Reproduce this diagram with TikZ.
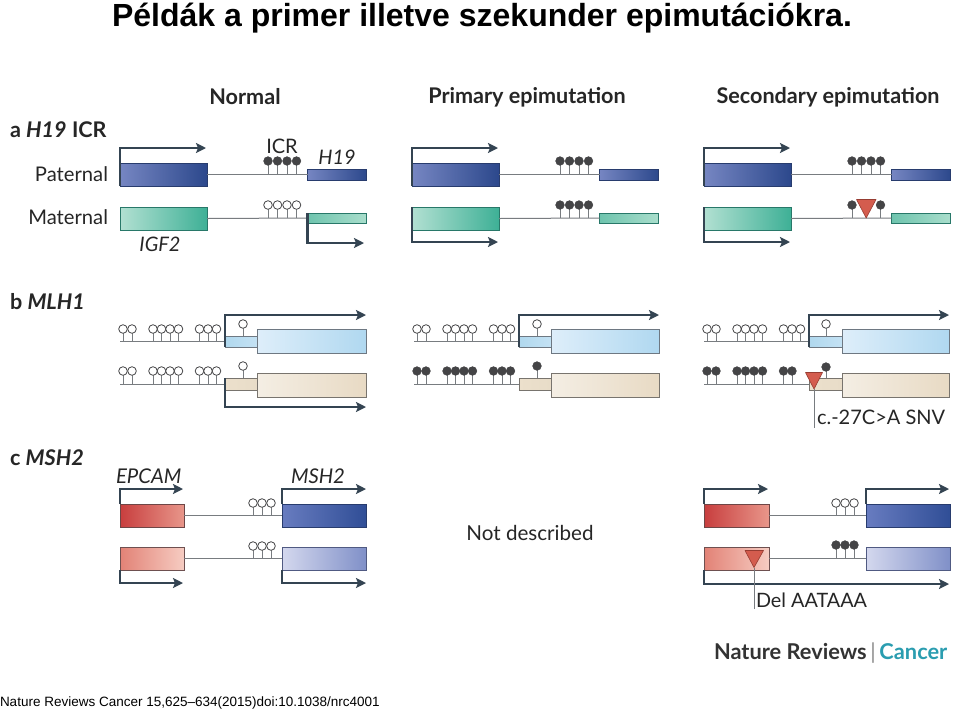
\documentclass[tikz,border=0pt]{standalone}
\usepackage{fontspec}
\setmainfont{Lato}
\newfontfamily\arialf{Liberation Sans}
\usetikzlibrary{arrows.meta}
\definecolor{arrowc}{RGB}{52,68,82}
\definecolor{lolc}{RGB}{68,68,70}
\definecolor{dnac}{RGB}{120,124,128}
\definecolor{teal}{RGB}{42,157,176}
\definecolor{redtri}{RGB}{212,92,78}
\definecolor{redtrid}{RGB}{150,60,50}
\newcommand\lolF[3]{\draw[stemline] (#1,#2) -- (#1,#3); \filldraw[lolfill] (#1,#3) circle[radius=4.3pt];}
\newcommand\lolO[3]{\draw[stemline] (#1,#2) -- (#1,#3); \filldraw[lolopen] (#1,#3) circle[radius=4.3pt];}
\newcommand\fsz[1]{\fontsize{#1}{#1}\selectfont}
\begin{document}
\begin{tikzpicture}[x=1pt,y=-1pt,
  gbox/.style={rectangle,draw,line width=0.6pt,inner sep=0pt,outer sep=0pt,anchor=north west},
  bdark/.style={gbox,left color={rgb,255:red,118;green,134;blue,194},right color={rgb,255:red,44;green,72;blue,140},draw={rgb,255:red,40;green,60;blue,110}},
  bteal/.style={gbox,left color={rgb,255:red,178;green,224;blue,210},right color={rgb,255:red,62;green,176;blue,150},draw={rgb,255:red,40;green,120;blue,105}},
  bteals/.style={gbox,left color={rgb,255:red,110;green,196;blue,174},right color={rgb,255:red,170;green,222;blue,204},draw={rgb,255:red,40;green,120;blue,105}},
  blbs/.style={gbox,left color={rgb,255:red,176;green,216;blue,238},right color={rgb,255:red,196;green,226;blue,244},draw={rgb,255:red,110;green,120;blue,130}},
  blb/.style={gbox,left color={rgb,255:red,222;green,238;blue,250},right color={rgb,255:red,176;green,216;blue,240},draw={rgb,255:red,110;green,120;blue,130}},
  bbgs/.style={gbox,left color={rgb,255:red,236;green,224;blue,204},right color={rgb,255:red,232;green,220;blue,200},draw={rgb,255:red,120;green,116;blue,110}},
  bbg/.style={gbox,left color={rgb,255:red,244;green,238;blue,228},right color={rgb,255:red,232;green,218;blue,196},draw={rgb,255:red,120;green,116;blue,110}},
  bred/.style={gbox,left color={rgb,255:red,200;green,62;blue,62},right color={rgb,255:red,232;green,150;blue,138},draw={rgb,255:red,110;green,70;blue,70}},
  bredl/.style={gbox,left color={rgb,255:red,226;green,130;blue,118},right color={rgb,255:red,246;green,204;blue,194},draw={rgb,255:red,110;green,80;blue,80}},
  bmsh/.style={gbox,left color={rgb,255:red,104;green,124;blue,192},right color={rgb,255:red,48;green,78;blue,150},draw={rgb,255:red,40;green,60;blue,110}},
  bmshl/.style={gbox,left color={rgb,255:red,212;green,216;blue,238},right color={rgb,255:red,128;green,144;blue,200},draw={rgb,255:red,80;green,90;blue,130}},
  dna/.style={draw=dnac,line width=1pt},
  stemline/.style={draw=dnac,line width=0.9pt},
  lolfill/.style={fill=lolc,draw=lolc,line width=0.6pt},
  lolopen/.style={fill=white,draw=lolc,line width=0.8pt},
  tss/.style={draw=arrowc,line width=2.8pt,-{Stealth[length=10pt,width=10pt,inset=2pt]}},
  tri/.style={fill=redtri,draw=redtrid,line width=0.6pt,line join=round},
  lab/.style={inner sep=0pt,outer sep=0pt,text=black!85},
  callout/.style={draw=dnac,line width=1pt}
]
\useasboundingbox (0,0) rectangle (960,713);
\fill[white] (0,0) rectangle (960,713);

% ---------- title and footer
\node[lab,anchor=base,text=black,font=\arialf\bfseries\fsz{32}] (title) at (482,26) {Példák a primer illetve szekunder epimutációkra.};
\node[lab,anchor=west,text=black,font=\arialf\fsz{13.5}] (foot) at (0,703) {Nature Reviews Cancer 15,625–634(2015)doi:10.1038/nrc4001};

% ---------- headers
\node[lab,font=\bfseries\fsz{21.6}] (hN) at (245,97) {Normal};
\node[lab,font=\bfseries\fsz{21.6}] (hP) at (527,97) {Primary epimutation};
\node[lab,font=\bfseries\fsz{21.6}] (hS) at (828,97) {Secondary epimutation};

% ---------- panel a
\node[lab,anchor=west,font=\bfseries\fsz{21.6}] (la) at (10,130) {a \textit{H19} ICR};
\node[lab,anchor=east,font=\fsz{20.2}] (lpat) at (108,174) {Paternal};
\node[lab,anchor=east,font=\fsz{20.2}] (lmat) at (108,217) {Maternal};
\node[lab,font=\fsz{20}] (licr) at (282,146) {ICR};
\node[lab,font=\itshape\fsz{20}] (lh19) at (337,157) {H19};
\node[lab,font=\itshape\fsz{20}] (ligf) at (160,244) {IGF2};

% normal
\node[bdark,minimum width=87pt,minimum height=23pt] (aNp) at (120,163) {};
\node[bdark,minimum width=59pt,minimum height=11pt] (aNph) at (307.5,169) {};
\draw[dna] (aNp.east) -- (aNph.west);
\foreach \x in {268,277.5,287,296.5} {\lolF{\x}{174.5}{161}}
\draw[tss] (aNp.south west) -- (120,148) -- (206,148);
\node[bteal,minimum width=87pt,minimum height=23pt] (aNm) at (120,207) {};
\node[bteals,minimum width=59pt,minimum height=10pt] (aNmh) at (307.5,213) {};
\draw[dna] (aNm.east) -- (aNmh.west);
\foreach \x in {268,277.5,287,296.5} {\lolO{\x}{218}{205}}
\draw[tss] (aNmh.north west) -- (307.5,243) -- (364,243);

% primary
\node[bdark,minimum width=87pt,minimum height=23pt] (aPp) at (412,163) {};
\node[bdark,minimum width=59pt,minimum height=11pt] (aPph) at (599.5,169) {};
\draw[dna] (aPp.east) -- (aPph.west);
\foreach \x in {560,569.5,579,588.5} {\lolF{\x}{174.5}{161}}
\draw[tss] (aPp.south west) -- (412,148) -- (498,148);
\node[bteal,minimum width=87pt,minimum height=23pt] (aPm) at (412,207) {};
\node[bteals,minimum width=59pt,minimum height=10pt] (aPmh) at (599.5,213) {};
\draw[dna] (aPm.east) -- (aPmh.west);
\foreach \x in {560,569.5,579,588.5} {\lolF{\x}{218}{205}}
\draw[tss] (aPm.north west) -- (412,242) -- (498,242);

% secondary
\node[bdark,minimum width=87pt,minimum height=23pt] (aSp) at (704,163) {};
\node[bdark,minimum width=59pt,minimum height=11pt] (aSph) at (891.5,169) {};
\draw[dna] (aSp.east) -- (aSph.west);
\foreach \x in {852,861.5,871,880.5} {\lolF{\x}{174.5}{161}}
\draw[tss] (aSp.south west) -- (704,148) -- (790,148);
\node[bteal,minimum width=87pt,minimum height=23pt] (aSm) at (704,207) {};
\node[bteals,minimum width=59pt,minimum height=10pt] (aSmh) at (891.5,213) {};
\draw[dna] (aSm.east) -- (aSmh.west);
\foreach \x in {852,880.5} {\lolF{\x}{218}{205}}
\draw[tri] (856.5,199.5) -- (876,199.5) -- (866.2,218) -- cycle;
\draw[tss] (aSm.north west) -- (704,242) -- (790,242);

% ---------- panel b
\node[lab,anchor=west,font=\bfseries\fsz{21.6}] (lb) at (10,302) {b \textit{MLH1}};

% normal (arrow x = 225)
\coordinate (bNs1) at (120,341.5);
\node[blbs,minimum width=32pt,minimum height=11pt] (bNe1) at (225,336) {};
\node[blb,minimum width=109pt,minimum height=24pt] (bNx1) at (257,329) {};
\draw[dna] (bNs1) -- (bNe1.west);
\foreach \d in {-102,-93,-72,-63.5,-55,-46.5,-25.5,-17,-8.5} {\lolO{225+\d}{341.5}{329}}
\lolO{243}{336}{324}
\draw[tss] (bNe1.south west) -- (225,315) -- (366,315);
\coordinate (bNs2) at (120,384);
\node[bbgs,minimum width=32pt,minimum height=12pt] (bNe2) at (225,378) {};
\node[bbg,minimum width=109pt,minimum height=24pt] (bNx2) at (257,373) {};
\draw[dna] (bNs2) -- (bNe2.west);
\foreach \d in {-102,-93,-72,-63.5,-55,-46.5,-25.5,-17,-8.5} {\lolO{225+\d}{384}{371}}
\lolO{243}{378}{366}
\draw[tss] (bNe2.north west) -- (225,407) -- (366,407);

% primary (arrow x = 519)
\coordinate (bPs1) at (414,341.5);
\node[blbs,minimum width=32pt,minimum height=11pt] (bPe1) at (519,336) {};
\node[blb,minimum width=108pt,minimum height=24pt] (bPx1) at (551,329) {};
\draw[dna] (bPs1) -- (bPe1.west);
\foreach \d in {-102,-93,-72,-63.5,-55,-46.5,-25.5,-17,-8.5} {\lolO{519+\d}{341.5}{329}}
\lolO{537}{336}{324}
\draw[tss] (bPe1.south west) -- (519,315) -- (659,315);
\coordinate (bPs2) at (414,384);
\node[bbgs,minimum width=32pt,minimum height=12pt] (bPe2) at (519,378) {};
\node[bbg,minimum width=108pt,minimum height=24pt] (bPx2) at (551,373) {};
\draw[dna] (bPs2) -- (bPe2.west);
\foreach \d in {-102,-93,-72,-63.5,-55,-46.5,-25.5,-17,-8.5} {\lolF{519+\d}{384}{371}}
\lolF{537}{378}{366}

% secondary (arrow x = 809)
\coordinate (bSs1) at (704,341.5);
\node[blbs,minimum width=33pt,minimum height=11pt] (bSe1) at (809,336) {};
\node[blb,minimum width=107pt,minimum height=24pt] (bSx1) at (842,329) {};
\draw[dna] (bSs1) -- (bSe1.west);
\foreach \d in {-102,-93,-72,-63.5,-55,-46.5,-25.5,-17,-8.5} {\lolO{809+\d}{341.5}{329}}
\lolO{826}{336}{324}
\draw[tss] (bSe1.south west) -- (809,315) -- (949,315);
\coordinate (bSs2) at (704,384);
\node[bbgs,minimum width=33pt,minimum height=12pt] (bSe2) at (809,378) {};
\node[bbg,minimum width=107pt,minimum height=24pt] (bSx2) at (842,373) {};
\draw[dna] (bSs2) -- (bSe2.west);
\foreach \d in {-102,-93,-72,-63.5,-55,-46.5,-25.5,-17} {\lolF{809+\d}{384}{371}}
\lolF{826}{378}{367}
\draw[tri] (805.5,372.5) -- (822.5,372.5) -- (814,389) -- cycle;
\coordinate (snvtip) at (814,389);
\node[lab,anchor=west,font=\fsz{20}] (lsnv) at (817,417) {c.-27C>A SNV};
\draw[callout] (snvtip) -- (814,428);

% ---------- panel c
\node[lab,anchor=west,font=\bfseries\fsz{21.6}] (lc) at (10,458) {c \textit{MSH2}};
\node[lab,anchor=west,font=\itshape\fsz{20.3}] (lep) at (116,476) {EPCAM};
\node[lab,anchor=west,font=\itshape\fsz{20.3}] (lms) at (291,476) {MSH2};
\node[lab,font=\fsz{20.6}] (lnd) at (530,533) {Not described};

% normal
\node[bred,minimum width=64pt,minimum height=23pt] (cNe1) at (120,504) {};
\node[bmsh,minimum width=84pt,minimum height=23pt] (cNm1) at (282,504) {};
\draw[dna] (cNe1.east) -- (cNm1.west);
\foreach \x in {253,262,271} {\lolO{\x}{515.5}{503}}
\draw[tss] (cNe1.north west) -- (120,489) -- (183,489);
\draw[tss] (cNm1.north west) -- (282,489) -- (366,489);
\node[bredl,minimum width=64pt,minimum height=23pt] (cNe2) at (120,547) {};
\node[bmshl,minimum width=84pt,minimum height=23pt] (cNm2) at (282,547) {};
\draw[dna] (cNe2.east) -- (cNm2.west);
\foreach \x in {253,262,271} {\lolO{\x}{558.5}{546}}
\draw[tss] (cNe2.south west) -- (120,583) -- (183,583);
\draw[tss] (cNm2.south west) -- (282,583) -- (366,583);

% secondary
\node[bred,minimum width=65pt,minimum height=23pt] (cSe1) at (704,504) {};
\node[bmsh,minimum width=84pt,minimum height=23pt] (cSm1) at (866,504) {};
\draw[dna] (cSe1.east) -- (cSm1.west);
\foreach \x in {836,845,854} {\lolO{\x}{515.5}{503}}
\draw[tss] (cSe1.north west) -- (704,489) -- (768,489);
\draw[tss] (cSm1.north west) -- (866,489) -- (949,489);
\node[bredl,minimum width=65pt,minimum height=23pt] (cSe2) at (704,547) {};
\node[bmshl,minimum width=84pt,minimum height=23pt] (cSm2) at (866,547) {};
\draw[dna] (cSe2.east) -- (cSm2.west);
\foreach \x in {836,845,854} {\lolF{\x}{558.5}{545}}
\draw[tss] (cSe2.south west) -- (704,584) -- (949,584);
\draw[tri] (745,550.5) -- (763.5,550.5) -- (754,567.5) -- cycle;
\coordinate (deltip) at (754,567.5);
\node[lab,anchor=west,font=\fsz{19.8}] (ldel) at (756,600) {Del AATAAA};
\draw[callout] (deltip) -- (754,609);

% ---------- journal mark
\node[lab,anchor=west,font=\bfseries\fsz{21.8}] (nrc) at (714,653) {\textcolor{black!80}{Nature Reviews}\,\textcolor{black!45}{\mdseries|}\,\textcolor{teal}{Cancer}};
\end{tikzpicture}
\end{document}
